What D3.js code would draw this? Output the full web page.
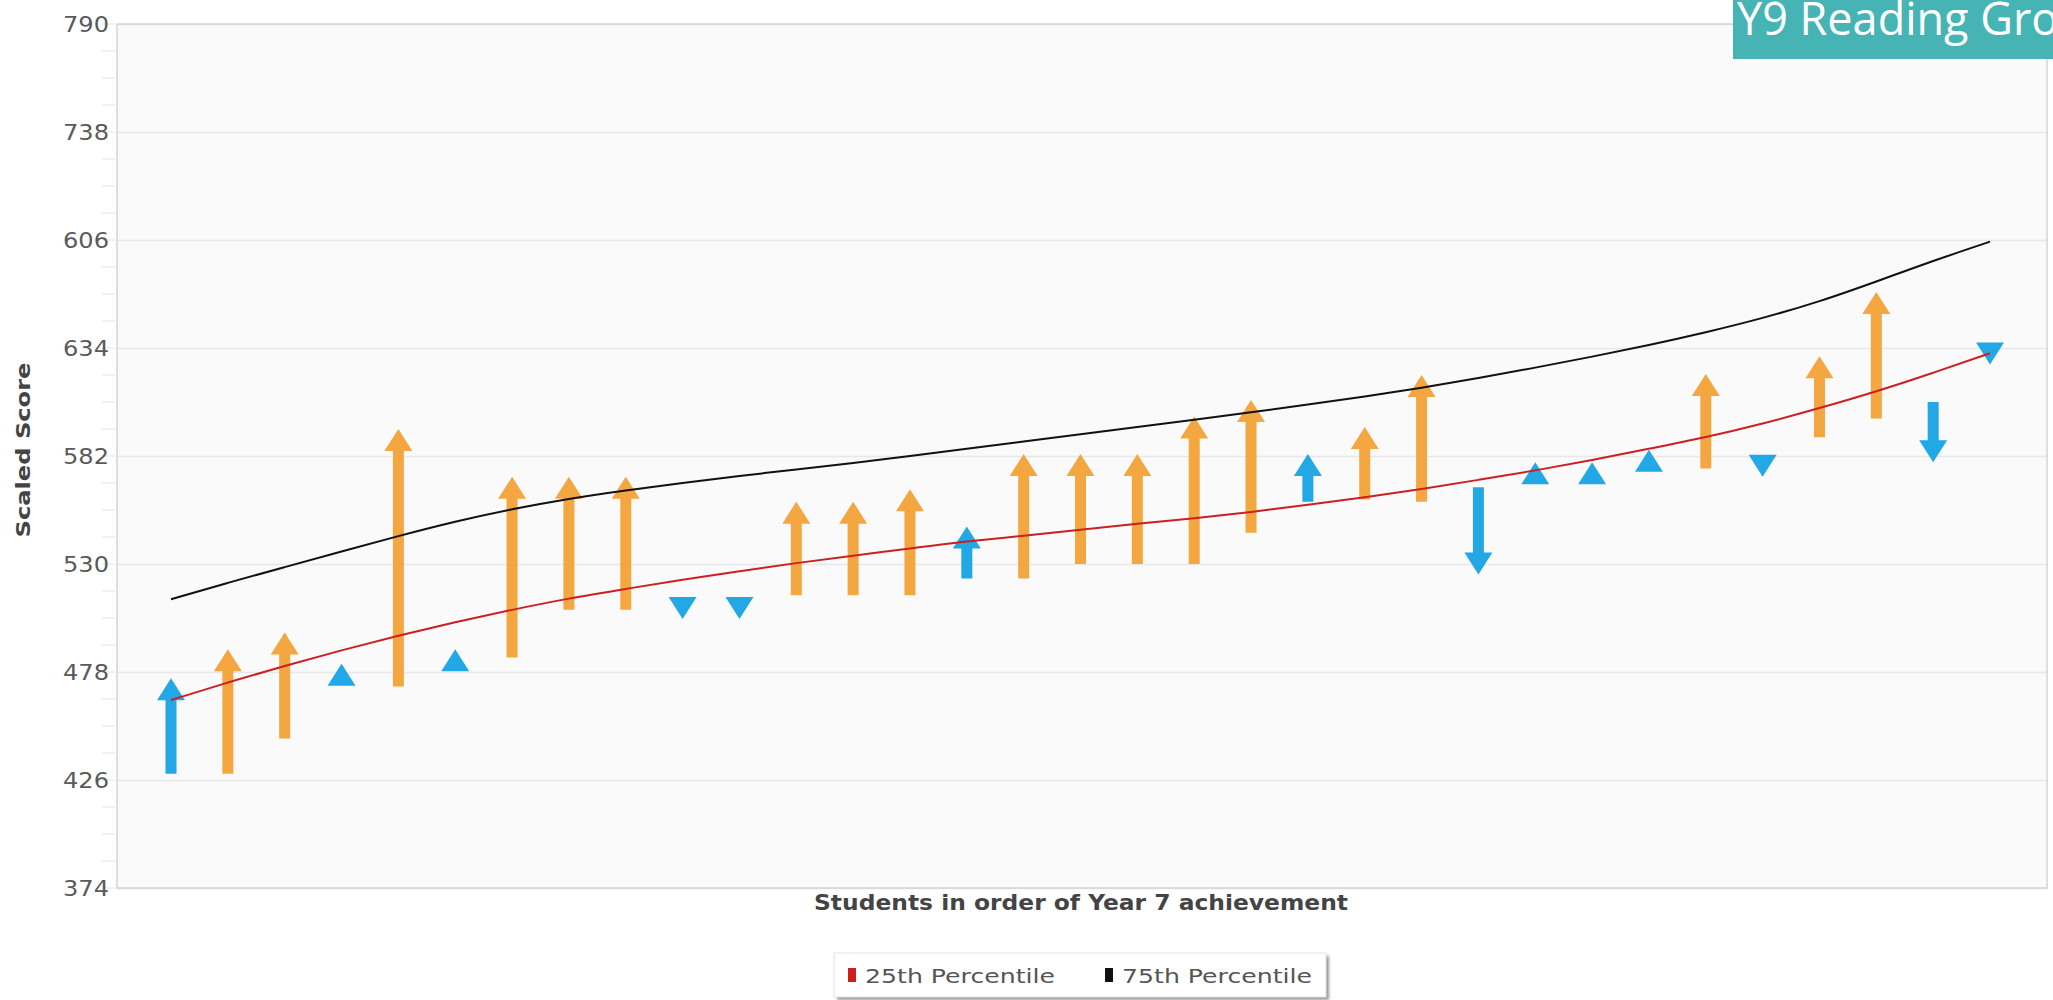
<!DOCTYPE html>
<html>
<head>
<meta charset="utf-8">
<script src="https://cdn.jsdelivr.net/npm/d3@7/dist/d3.min.js"></script>
<style>
  html, body { margin: 0; padding: 0; background: #ffffff; overflow: hidden; }
  svg { display: block; }
</style>
</head>
<body>
<svg id="chart" width="2053" height="1000"></svg>
<script>
// ---------------- DATA ----------------
const students = [1,2,3,4,5,6,7,8,9,10,11,12,13,14,15,16,17,18,19,20,21,22,23,24,25,26,27,28,29,30,31,32,33];
// Year 7 (start) and Year 9 (end) scaled scores per student
const startScores = [429,429,446,472,471,478,485,508,508,514,514,515,515,515,523,523,530,530,530,545,560,561,560,567,568.5,568.5,576,576,582,591,600,608,635.5];
const endScores   = [475,489,497,482,595,489,572,572,572,503.5,503.5,560,560,566,548,583,583,583,601,609,583,596,621,525,579,579,585,621.5,572,630,661,579,626];
// progress category: "blue" = below expected, "orange" = expected or better
const progressType = ["blue","orange","orange","blue","orange","blue","orange","orange","orange","blue","blue","orange","orange","orange","blue","orange","orange","orange","orange","orange","blue","orange","orange","blue","blue","blue","blue","orange","blue","orange","orange","blue","blue"];
// percentile lines
const p25 = [464.5,473,481,488.5,495.5,502,508,513.5,518,522.5,526.5,530.5,534,537.5,541,543.5,546.5,549.5,552,555,558.5,562,566,570.5,575,580,585.5,591,597.5,605,613,622,631.5];
const p75 = [513,521,528.5,536,543.5,550.5,556.5,561.5,565.5,569,572.5,575.5,578.5,582,585.5,589,592.5,596,599.5,603,606.8,610.6,614.8,619.5,624.5,629.8,635.4,641.5,648.3,656.3,666,676,685.2];
// y axis ticks (label text as printed on the original)
const yTickValues = [790,738,686,634,582,530,478,426,374];
const yTickLabels = ["790","738","606","634","582","530","478","426","374"];
const legendItems = [{label:"25th Percentile", color:"#cc1f1f"}, {label:"75th Percentile", color:"#111111"}];
const titleText = "Y9 Reading Group";
const xTitle = "Students in order of Year 7 achievement";
const yTitle = "Scaled Score";

// ---------------- LAYOUT ----------------
const svg = d3.select("#chart");
const plot = {left:117, right:2047, top:24, bottom:888};
const colors = {orange:"#f4a640", blue:"#22a8e4"};

const x = d3.scaleLinear().domain([1,33]).range([171,1990]);
const y = d3.scaleLinear().domain([374,790]).range([plot.bottom, plot.top]);

// plot background
svg.append("rect")
  .attr("x", plot.left).attr("y", plot.top)
  .attr("width", plot.right-plot.left).attr("height", plot.bottom-plot.top)
  .attr("fill", "#fafafa");

// gridlines
const grid = svg.append("g").attr("transform", `translate(${plot.left},0)`)
  .call(d3.axisLeft(y).tickValues(yTickValues).tickSize(-(plot.right-plot.left)).tickFormat(""));
grid.select(".domain").remove();
grid.selectAll("line").attr("stroke", "#e8e8e8").attr("stroke-width", 1.5);

// minor ticks
const minor = d3.range(374, 791, 13);
svg.append("g").selectAll("line").data(minor).join("line")
  .attr("x1", plot.left-15).attr("x2", plot.left-2)
  .attr("y1", d=>y(d)).attr("y2", d=>y(d))
  .attr("stroke", "#ececec").attr("stroke-width", 1.5);

// border
svg.append("rect")
  .attr("x", plot.left).attr("y", plot.top)
  .attr("width", plot.right-plot.left).attr("height", plot.bottom-plot.top)
  .attr("fill", "none").attr("stroke", "#d4d4d4").attr("stroke-width", 1.5);

// y axis labels
const yAxis = svg.append("g").attr("transform", `translate(${plot.left},0)`)
  .call(d3.axisLeft(y).tickValues(yTickValues).tickSize(0).tickPadding(8)
    .tickFormat((d,i)=>yTickLabels[i]));
yAxis.select(".domain").remove();
yAxis.selectAll("text")
  .attr("font-family", "DejaVu Sans, sans-serif")
  .attr("font-size", 22).attr("fill", "#5a5a5a")
  .attr("textLength", 46).attr("lengthAdjust", "spacingAndGlyphs");

// arrows
const headLen = 22, headHalf = 14, shaftHalf = 5.5;
function arrowPath(i){
  const cx = x(students[i]);
  const ys = y(startScores[i]), ye = y(endScores[i]);
  const d = ys > ye ? 1 : -1;
  const hb = ye + d*headLen;
  if (Math.abs(ys-ye) <= headLen + 1) {
    return `M${cx-headHalf},${hb}L${cx},${ye}L${cx+headHalf},${hb}Z`;
  }
  return `M${cx-shaftHalf},${ys}L${cx-shaftHalf},${hb}L${cx-headHalf},${hb}L${cx},${ye}L${cx+headHalf},${hb}L${cx+shaftHalf},${hb}L${cx+shaftHalf},${ys}Z`;
}
svg.append("g").selectAll("path").data(students).join("path")
  .attr("d", (s,i)=>arrowPath(i))
  .attr("fill", (s,i)=>colors[progressType[i]]);

// percentile lines
const line = d3.line().x((v,i)=>x(students[i])).y(v=>y(v)).curve(d3.curveBasis);
svg.append("path").datum(p75).attr("d", line)
  .attr("fill","none").attr("stroke","#111").attr("stroke-width",2);
svg.append("path").datum(p25).attr("d", line)
  .attr("fill","none").attr("stroke","#cc1f1f").attr("stroke-width",2);

// axis titles
svg.append("text")
  .attr("x", 1081).attr("y", 910)
  .attr("text-anchor","middle")
  .attr("font-family","DejaVu Sans, sans-serif").attr("font-weight","bold")
  .attr("font-size", 22).attr("fill","#444")
  .attr("textLength", 534).attr("lengthAdjust","spacingAndGlyphs")
  .text(xTitle);

svg.append("text")
  .attr("transform","translate(30,450) rotate(-90)")
  .attr("text-anchor","middle")
  .attr("font-family","DejaVu Sans, sans-serif").attr("font-weight","bold")
  .attr("font-size", 20).attr("fill","#444")
  .attr("textLength", 175).attr("lengthAdjust","spacingAndGlyphs")
  .text(yTitle);

// legend
const defs = svg.append("defs");
const f = defs.append("filter").attr("id","shadow").attr("x","-10%").attr("y","-30%").attr("width","130%").attr("height","170%");
f.append("feGaussianBlur").attr("stdDeviation", 1.5);
svg.append("rect").attr("x", 837).attr("y", 956).attr("width", 492).attr("height", 44)
  .attr("fill","#9a9a9a").attr("filter","url(#shadow)");
svg.append("rect").attr("x", 834).attr("y", 953).attr("width", 492).attr("height", 44)
  .attr("fill","#ffffff").attr("stroke","#e4e4e4");
const legendX = [848, 1105];
const lg = svg.append("g").selectAll("g").data(legendItems).join("g")
  .attr("transform",(d,i)=>`translate(${legendX[i]},0)`);
lg.append("rect").attr("x",0).attr("y",968).attr("width",8).attr("height",14).attr("fill",d=>d.color);
lg.append("text").attr("x",17).attr("y",983)
  .attr("font-family","DejaVu Sans, sans-serif").attr("font-size",20).attr("fill","#555")
  .attr("textLength",190).attr("lengthAdjust","spacingAndGlyphs")
  .text(d=>d.label);

// title box
svg.append("rect").attr("x",1733).attr("y",0).attr("width",320).attr("height",59).attr("fill","#46b4b5");
svg.append("text").attr("x",1737).attr("y",35)
  .attr("font-family","Open Sans, sans-serif").attr("font-size",45).attr("fill","#ffffff")
  .text(titleText);
</script>
</body>
</html>
